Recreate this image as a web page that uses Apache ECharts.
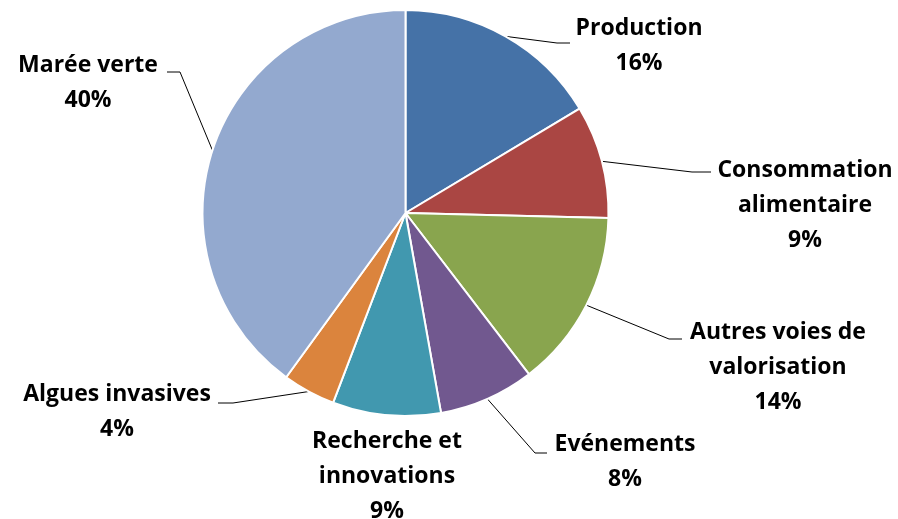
<!DOCTYPE html>
<html>
<head>
<meta charset="utf-8">
<script src="https://cdn.jsdelivr.net/npm/echarts@6/dist/echarts.min.js"></script>
<style>
html,body{margin:0;padding:0;background:#fff;}
#chart{width:898px;height:519px;}
</style>
</head>
<body>
<div id="chart"></div>
<script>
// Data
const categories = ['Production', 'Consommation\nalimentaire', 'Autres voies de\nvalorisation', 'Evénements', 'Recherche et\ninnovations', 'Algues invasives', 'Marée verte'];
const values = [16.4, 9.0, 14.2, 7.6, 8.6, 4.2, 40.0];
const colors = ['#4572A7', '#AA4643', '#89A54E', '#71588F', '#4198AF', '#DB843D', '#93A9CF'];

// Label layout (positions of the text blocks and leader line bends)
const labelPos = [[639, 46], [805, 205], [778, 367], [625, 462], [387, 476], [117, 412], [88, 83]];
const guides = [
  [[557, 43], [570, 43]],
  [[692, 172], [711, 172]],
  [[669, 339], [682, 339]],
  [[535, 453], [547, 453]],
  null,
  [[233, 403], [218, 403]],
  [[180, 72], [167, 72]]
];

const CX = 405.5, CY = 213, R = 203;

const chart = echarts.init(document.getElementById('chart'));
chart.setOption({
  animation: false,
  backgroundColor: '#fff',
  series: [{
    type: 'pie',
    center: [CX, CY],
    radius: R,
    startAngle: 90,
    clockwise: true,
    avoidLabelOverlap: false,
    itemStyle: { borderColor: '#fff', borderWidth: 2 },
    label: {
      show: true,
      position: 'outside',
      formatter: p => p.name + '\n' + Math.round(p.percent) + '%',
      fontFamily: 'Open Sans',
      fontWeight: 'bold',
      fontSize: 23,
      lineHeight: 35,
      color: '#000',
      align: 'center'
    },
    labelLine: { show: true, length: 10, length2: 10, smooth: false, lineStyle: { color: '#000', width: 1 } },
    labelLayout: function (params) {
      const i = params.dataIndex;
      const p = labelPos[i];
      const out = { x: p[0], y: p[1], align: 'center', verticalAlign: 'middle' };
      const g = guides[i];
      if (g) {
        let start = params.labelLinePoints && params.labelLinePoints[0];
        out.labelLinePoints = [start, g[0], g[1]];
      }
      return out;
    },
    data: categories.map((c, i) => ({
      name: c,
      value: values[i],
      itemStyle: { color: colors[i] },
      labelLine: { show: guides[i] !== null }
    }))
  }]
});
</script>
</body>
</html>
